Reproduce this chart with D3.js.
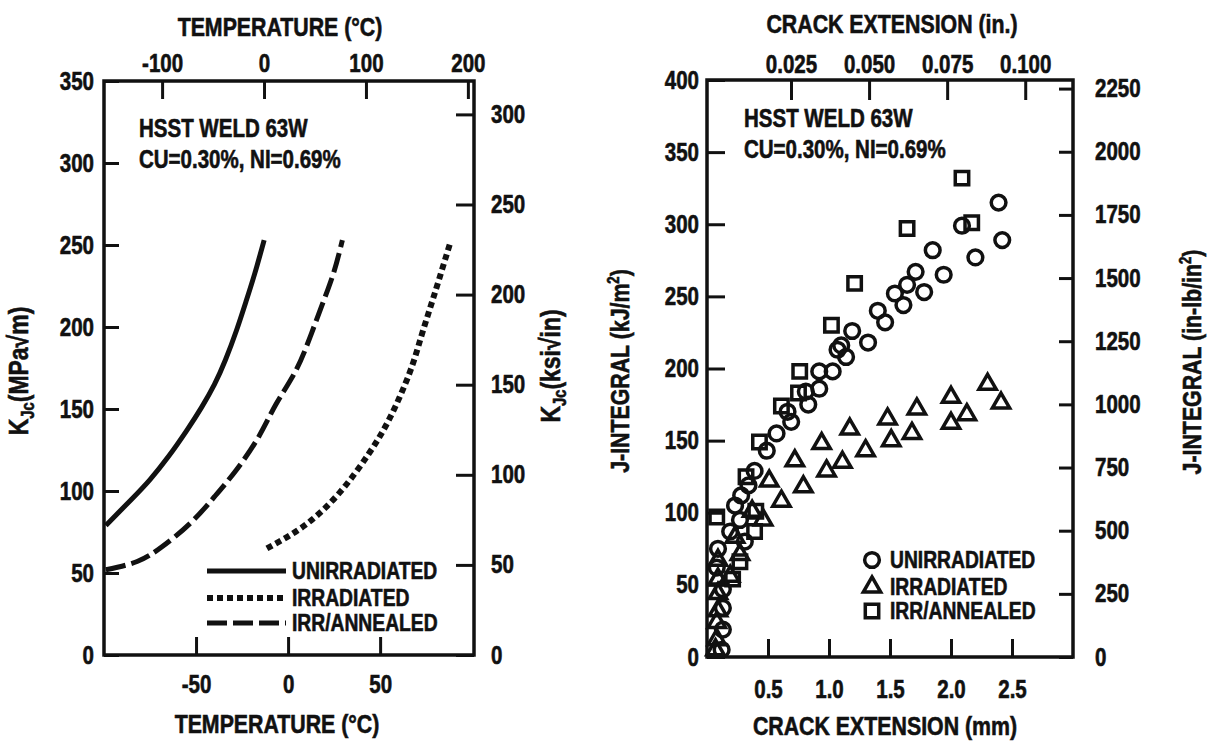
<!DOCTYPE html>
<html>
<head>
<meta charset="utf-8">
<script src="https://cdn.jsdelivr.net/npm/d3@7"></script>
<style>
	body { margin: 0; background: #fff; }
	svg text { font-family: "Liberation Sans", Arial, sans-serif; font-weight: bold; fill: #111; stroke: #111; stroke-width: 0.6px; }
</style>
</head>
<body>
<script>
// ---- left panel: K_Jc vs temperature curves ----
var unirrTemp = [-99, -85, -75, -65, -55, -47, -40, -34, -28, -23, -18, -13];
var unirrK    = [79, 95, 107, 121, 137, 151, 165, 180, 198, 215, 233, 253];
var irrTemp   = [-11.5, 9, 28, 44, 55.5, 66, 72, 77, 82, 88];
var irrK      = [65, 79, 99, 123, 145, 172, 193, 211, 229, 251];
var annTemp   = [-99, -82, -68.5, -53, -40, -28, -16, -6.5, 4, 12, 19, 25, 29.5];
var annK      = [52, 57, 66, 80.5, 96.5, 113, 133, 153, 173, 194, 215, 234, 253];

var tempCTicks = [-50, 0, 50];
var tempFTicks = [-100, 0, 100, 200];
var kMpaTicks  = [0, 50, 100, 150, 200, 250, 300, 350];
var kKsiTicks  = [0, 50, 100, 150, 200, 250, 300];

// ---- right panel: J-R data, [crack extension mm, J kJ/m2] ----
var unirrJR = [[0.12,5],[0.13,19],[0.13,34],[0.13,47],[0.08,62],[0.09,75],[0.19,87],[0.31,80],[0.27,95],
	[0.23,105],[0.28,112],[0.34,119],[0.39,129],[0.49,143],[0.57,155],[0.69,163],[0.66,170],[0.83,175],
	[0.81,184],[0.92,186],[0.92,198],[1.03,198],[1.14,208],[1.07,213],[1.10,216],[1.19,226],[1.32,218],
	[1.46,232],[1.40,240],[1.61,244],[1.54,252],[1.78,253],[1.64,258],[1.71,267],[1.94,265],[1.85,282],
	[2.20,277],[2.09,299],[2.42,289],[2.39,315]];
var irrJR = [[0.07,5],[0.08,12],[0.08,24],[0.09,32],[0.09,44],[0.09,54],[0.19,56],[0.09,67],[0.27,71],
	[0.23,83],[0.46,95],[0.37,101],[0.61,108],[0.51,122],[0.79,118],[0.72,136],[0.98,129],[1.11,135],
	[1.30,143],[0.94,148],[1.51,150],[1.17,158],[1.68,155],[1.48,165],[2.0,162],[2.13,168],[1.72,172],
	[2.41,176],[2.0,180],[2.30,189]];
var annJR = [[0.21,54],[0.27,66],[0.39,87],[0.08,97],[0.40,101],[0.32,125],[0.43,149],[0.61,174],
	[0.75,183],[0.76,198],[1.02,230],[1.21,259],[1.64,297],[2.17,301],[2.09,332]];

var crackMmTicks = [0.5, 1.0, 1.5, 2.0, 2.5];
var crackInTicks = [0.025, 0.050, 0.075, 0.100];
var jKjTicks     = [0, 50, 100, 150, 200, 250, 300, 350, 400];
var jInLbTicks   = [0, 250, 500, 750, 1000, 1250, 1500, 1750, 2000, 2250];

var legendNames = ["UNIRRADIATED", "IRRADIATED", "IRR/ANNEALED"];

// panel boxes
var lp = {left: 104, right: 474, top: 81, bottom: 655};
var rp = {left: 707, right: 1073, top: 80, bottom: 657};

// horizontal squeeze to mimic the condensed typeface of the original
var squeeze = 0.82;

var svg = d3.select("body").append("svg")
	.attr("width", 1208)
	.attr("height", 741);

// scales
var tempC = d3.scaleLinear().domain([-100, 101]).range([lp.left, lp.right]);
var tempF = d3.scaleLinear().domain([-157, 206]).range([lp.left, lp.right]);
var kMpa  = d3.scaleLinear().domain([0, 350]).range([lp.bottom, lp.top]);
var kKsi  = d3.scaleLinear().domain([0, 350 / 1.0988]).range([lp.bottom, lp.top]);

var crackMm = d3.scaleLinear().domain([0, 3]).range([rp.left, rp.right]);
var crackIn = d3.scaleLinear().domain([-0.0019, 0.1153]).range([rp.left, rp.right]);
var jKj     = d3.scaleLinear().domain([0, 400]).range([rp.bottom, rp.top]);
var jInLb   = d3.scaleLinear().domain([0, 400 * 5.71]).range([rp.bottom, rp.top]);

var plain = function(d) { return String(d); };

function drawAxis(axis, tx, ty) {
	var g = svg.append("g")
		.attr("transform", "translate(" + tx + "," + ty + ")")
		.call(axis);
	g.attr("font-family", null).attr("font-size", null);
	g.select(".domain").remove();
	g.selectAll(".tick line").attr("stroke", "#111").attr("stroke-width", 3);
	g.selectAll(".tick text").attr("font-size", 25).attr("fill", "#111");
	return g;
}

/******** LEFT PANEL ************/
drawAxis(d3.axisBottom(tempC).tickValues(tempCTicks).tickSize(-18).tickPadding(20).tickFormat(plain), 0, lp.bottom);
drawAxis(d3.axisTop(tempF).tickValues(tempFTicks).tickSize(-18).tickPadding(9).tickFormat(plain), 0, lp.top);
drawAxis(d3.axisLeft(kMpa).tickValues(kMpaTicks).tickSize(-15).tickPadding(10).tickFormat(plain), lp.left, 0);
drawAxis(d3.axisRight(kKsi).tickValues(kKsiTicks).tickSize(-18).tickPadding(17).tickFormat(plain), lp.right, 0);

svg.append("rect")
	.attr("x", lp.left).attr("y", lp.top)
	.attr("width", lp.right - lp.left).attr("height", lp.bottom - lp.top)
	.attr("fill", "none").attr("stroke", "#111").attr("stroke-width", 3.5);

var curveStyles = [
	{temp: unirrTemp, k: unirrK, dash: null,   width: 5},
	{temp: irrTemp,   k: irrK,   dash: "6,4",  width: 6},
	{temp: annTemp,   k: annK,   dash: "20,6", width: 5}
];

var kLine = d3.line()
	.x(function(d) { return tempC(d[0]); })
	.y(function(d) { return kMpa(d[1]); })
	.curve(d3.curveNatural);

curveStyles.forEach(function(c) {
	var pts = c.temp.map(function(t, i) { return [t, c.k[i]]; });
	svg.append("path")
		.datum(pts)
		.attr("d", kLine)
		.attr("fill", "none")
		.attr("stroke", "#111")
		.attr("stroke-width", c.width)
		.attr("stroke-dasharray", c.dash);
});

// legend (left)
[571, 598, 623].forEach(function(yy, i) {
	svg.append("line")
		.attr("x1", 207).attr("x2", 286).attr("y1", yy).attr("y2", yy)
		.attr("stroke", "#111").attr("stroke-width", curveStyles[i].width)
		.attr("stroke-dasharray", curveStyles[i].dash);
	svg.append("text")
		.attr("x", 292).attr("y", yy + 8)
		.attr("font-size", 23.5)
		.text(legendNames[i]);
});

// annotation (left)
svg.append("text").attr("x", 139).attr("y", 137).attr("font-size", 25).text("HSST WELD 63W");
svg.append("text").attr("x", 139).attr("y", 168).attr("font-size", 25).text("CU=0.30%, NI=0.69%");

// titles (left)
svg.append("text").attr("x", 280).attr("y", 36).attr("text-anchor", "middle").attr("font-size", 26).text("TEMPERATURE (°C)");
svg.append("text").attr("x", 277).attr("y", 733).attr("text-anchor", "middle").attr("font-size", 26).text("TEMPERATURE (°C)");

function kTitle(x, y, unit) {
	var t = svg.append("text")
		.attr("transform", "translate(" + x + "," + y + ") rotate(-90)")
		.attr("text-anchor", "middle")
		.attr("font-size", 28);
	t.append("tspan").text("K");
	t.append("tspan").attr("font-size", 18).attr("dy", 6).text("Jc");
	t.append("tspan").attr("dy", -6).text(unit);
}
kTitle(28, 371, "(MPa√m)");
kTitle(560, 366, "(ksi√in)");

/******** RIGHT PANEL ************/
drawAxis(d3.axisBottom(crackMm).tickValues(crackMmTicks).tickSize(-18).tickPadding(23).tickFormat(d3.format(".1f")), 0, rp.bottom);
drawAxis(d3.axisTop(crackIn).tickValues(crackInTicks).tickSize(-20).tickPadding(7).tickFormat(d3.format(".3f")), 0, rp.top);
drawAxis(d3.axisLeft(jKj).tickValues(jKjTicks).tickSize(-18).tickPadding(8).tickFormat(plain), rp.left, 0);
drawAxis(d3.axisRight(jInLb).tickValues(jInLbTicks).tickSize(-14).tickPadding(22).tickFormat(plain), rp.right, 0);

svg.append("rect")
	.attr("x", rp.left).attr("y", rp.top)
	.attr("width", rp.right - rp.left).attr("height", rp.bottom - rp.top)
	.attr("fill", "none").attr("stroke", "#111").attr("stroke-width", 3.5);

var symbolTypes = [d3.symbolCircle, d3.symbolTriangle, d3.symbolSquare];
var symbolSizes = [170, 130, 180];
var jrSets = [unirrJR, irrJR, annJR];

jrSets.forEach(function(set, i) {
	svg.append("g").selectAll("path")
		.data(set)
		.enter()
		.append("path")
		.attr("transform", function(d) { return "translate(" + crackMm(d[0]) + "," + jKj(d[1]) + ")"; })
		.attr("d", d3.symbol().type(symbolTypes[i]).size(symbolSizes[i]))
		.attr("fill", "none")
		.attr("stroke", "#111")
		.attr("stroke-width", 3.5);
});

// legend (right)
[560, 587, 611].forEach(function(yy, i) {
	svg.append("path")
		.attr("transform", "translate(872," + yy + ")")
		.attr("d", d3.symbol().type(symbolTypes[i]).size(symbolSizes[i]))
		.attr("fill", "none").attr("stroke", "#111").attr("stroke-width", 3.5);
	svg.append("text")
		.attr("x", 890).attr("y", yy + 8)
		.attr("font-size", 23.5)
		.text(legendNames[i]);
});

// annotation (right)
svg.append("text").attr("x", 744).attr("y", 127).attr("font-size", 25).text("HSST WELD 63W");
svg.append("text").attr("x", 744).attr("y", 158).attr("font-size", 25).text("CU=0.30%, NI=0.69%");

// titles (right)
svg.append("text").attr("x", 892).attr("y", 33).attr("text-anchor", "middle").attr("font-size", 26).text("CRACK EXTENSION (in.)");
svg.append("text").attr("x", 885).attr("y", 735).attr("text-anchor", "middle").attr("font-size", 26).text("CRACK EXTENSION (mm)");

function jTitle(x, y, unit) {
	var t = svg.append("text")
		.attr("transform", "translate(" + x + "," + y + ") rotate(-90)")
		.attr("text-anchor", "middle")
		.attr("font-size", 26);
	t.append("tspan").text("J-INTEGRAL (" + unit);
	t.append("tspan").attr("font-size", 16).attr("dy", -10).text("2");
	t.append("tspan").attr("dy", 10).text(")");
}
jTitle(629, 371, "kJ/m");
jTitle(1201, 362, "in-lb/in");

// squeeze every label horizontally
svg.selectAll("text").each(function() {
	var len = this.getComputedTextLength();
	d3.select(this)
		.attr("textLength", len * squeeze)
		.attr("lengthAdjust", "spacingAndGlyphs");
});
</script>
</body>
</html>
